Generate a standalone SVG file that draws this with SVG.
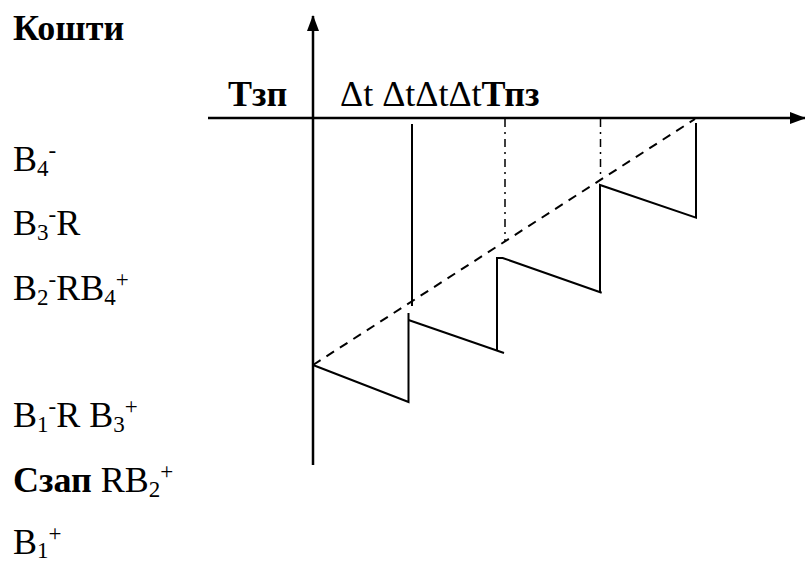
<svg xmlns="http://www.w3.org/2000/svg" width="805" height="561" viewBox="0 0 805 561">
<style>
text{font-family:"Liberation Serif","DejaVu Serif",serif;fill:#000}
.lbl{font-size:36px}
.b{font-weight:bold}
.s{font-size:23px}
.ax{stroke:#000;stroke-width:2.5;fill:none}
.ln{stroke:#000;stroke-width:2;fill:none}
.dash{stroke:#000;stroke-width:2;fill:none;stroke-dasharray:9,7}
.dd{stroke:#000;stroke-width:1.5;fill:none;stroke-dasharray:8,5,2,5}
</style>
<defs>
<marker id="arrv" markerWidth="16" markerHeight="12" refX="15" refY="6" orient="auto" markerUnits="userSpaceOnUse"><path d="M0,0 L16,6 L0,12 z" fill="#000"/></marker>
</defs>
<g id="axes">
<line class="ax" x1="313" y1="465" x2="313" y2="16" marker-end="url(#arrv)"/>
<line class="ax" x1="208" y1="118" x2="805" y2="118" marker-end="url(#arrv)"/>
</g>
<g id="connectors">
<line class="dash" x1="313" y1="365" x2="695" y2="119"/>
<line class="ln" x1="412" y1="124" x2="412" y2="306"/>
<line class="dd" x1="505" y1="119" x2="505" y2="241"/>
<line class="dd" x1="600.5" y1="119" x2="600.5" y2="180"/>
<polyline class="ln" points="313,365 408.5,402 408.5,313"/>
<polyline class="ln" points="408.5,320 504,353"/>
<polyline class="ln" points="497,351 497,258 502.7,258 601.7,292.7"/>
<polyline class="ln" points="600,292 600,185 696,217.7 696,123"/>
</g>
<g id="labels">
<text class="lbl b" x="13" y="40">Кошти</text>
<text class="lbl b" x="228" y="106">Тзп</text>
<text class="lbl" x="340" y="106">Δt ΔtΔtΔt<tspan class="b">Тпз</tspan></text>
<text class="lbl" x="13" y="171">B<tspan class="s" dy="5">4</tspan><tspan class="s" dy="-18">-</tspan></text>
<text class="lbl" x="13" y="235">B<tspan class="s" dy="5">3</tspan><tspan class="s" dy="-18">-</tspan><tspan dy="13">R</tspan></text>
<text class="lbl" x="13" y="300">B<tspan class="s" dy="5">2</tspan><tspan class="s" dy="-18">-</tspan><tspan dy="13">RB</tspan><tspan class="s" dy="5">4</tspan><tspan class="s" dy="-18">+</tspan></text>
<text class="lbl" x="13" y="427">B<tspan class="s" dy="5">1</tspan><tspan class="s" dy="-18">-</tspan><tspan dy="13">R B</tspan><tspan class="s" dy="5">3</tspan><tspan class="s" dy="-18">+</tspan></text>
<text class="lbl" x="13" y="492"><tspan class="b">Сзап</tspan> RB<tspan class="s" dy="5">2</tspan><tspan class="s" dy="-18">+</tspan></text>
<text class="lbl" x="13" y="554">B<tspan class="s" dy="4">1</tspan><tspan class="s" dy="-17">+</tspan></text>
</g>
</svg>
